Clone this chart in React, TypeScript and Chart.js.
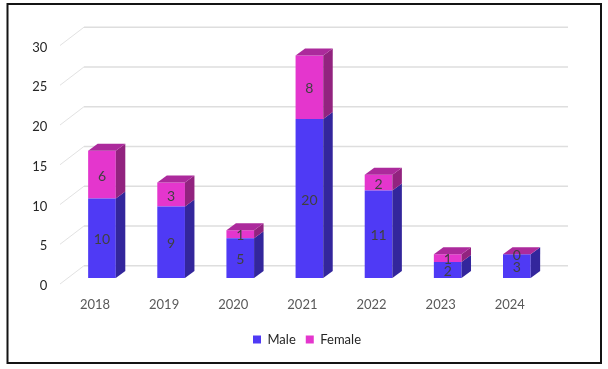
import React, { useEffect, useRef } from "react";
import { Chart, registerables } from "chart.js";

Chart.register(...registerables);

const categories = ["2018", "2019", "2020", "2021", "2022", "2023", "2024"];
const male = [10, 9, 5, 20, 11, 2, 3];
const female = [6, 3, 1, 8, 2, 1, 0];

const BLUE = "#4f3af5";
const BLUE_SIDE = "#33269c";
const MAGENTA = "#e436cd";
const MAGENTA_SIDE = "#92237f";
const MAGENTA_TOP = "#ac2a9c";
const FONT = "Lato, 'Open Sans', sans-serif";
const DX = 9.5;
const DY = 7;

const poly = (ctx: CanvasRenderingContext2D, pts: number[][], fill: string) => {
  ctx.beginPath();
  pts.forEach(([x, y], i) => (i ? ctx.lineTo(x, y) : ctx.moveTo(x, y)));
  ctx.closePath();
  ctx.fillStyle = fill;
  ctx.fill();
};

const scene = {
  id: "scene",
  beforeDraw(chart: any) {
    const { ctx, chartArea, scales } = chart;
    ctx.save();
    ctx.fillStyle = "#ffffff";
    ctx.fillRect(0, 0, chart.width, chart.height);
    ctx.strokeStyle = "#141414";
    ctx.lineWidth = 2;
    ctx.strokeRect(7.5, 4, 593.5, 359);
    // floor-and-wall rules, one per y tick
    const left = chartArea.left - 7.4;
    const backLeft = chartArea.left + 16.6;
    const backRight = chartArea.right + 16.6;
    scales.y.ticks.forEach((t: any) => {
      const y = scales.y.getPixelForValue(t.value);
      ctx.strokeStyle = "#e2e2e2";
      ctx.lineWidth = 1;
      ctx.beginPath();
      ctx.moveTo(left, y + 6);
      ctx.lineTo(backLeft, y - 12.3);
      ctx.stroke();
      ctx.strokeStyle = "#dedede";
      ctx.lineWidth = 1.6;
      ctx.beginPath();
      ctx.moveTo(backLeft, y - 12.3);
      ctx.lineTo(backRight, y - 12.3);
      ctx.stroke();
    });
    ctx.restore();
  },
  afterDatasetsDraw(chart: any) {
    const { ctx } = chart;
    ctx.save();
    chart.data.datasets.forEach((ds: any, di: number) => {
      const isTop = di === chart.data.datasets.length - 1;
      chart.getDatasetMeta(di).data.forEach((bar: any, i: number) => {
        const { x, y, base, width } = bar.getProps(["x", "y", "base", "width"], true);
        const r = x + width / 2;
        const l = x - width / 2;
        if (base - y > 0) {
          poly(ctx, [[r, y], [r + DX, y - DY], [r + DX, base - DY], [r, base]], di === 0 ? BLUE_SIDE : MAGENTA_SIDE);
        }
        if (isTop) {
          poly(ctx, [[l, y], [l + DX, y - DY], [r + DX, y - DY], [r, y]], MAGENTA_TOP);
        }
      });
    });
    ctx.font = `14px ${FONT}`;
    ctx.fillStyle = "#404040";
    ctx.textAlign = "center";
    ctx.textBaseline = "middle";
    chart.data.datasets.forEach((ds: any, di: number) => {
      chart.getDatasetMeta(di).data.forEach((bar: any, i: number) => {
        const { x, y, base } = bar.getProps(["x", "y", "base"], true);
        ctx.fillText(String(ds.data[i]), x, (y + base) / 2 + 1.5);
      });
    });
    ctx.restore();
  },
};

export default function App() {
  const ref = useRef<HTMLCanvasElement>(null);
  useEffect(() => {
    const chart = new Chart(ref.current!, {
      type: "bar",
      data: {
        labels: categories,
        datasets: [
          { label: "Male", data: male, backgroundColor: BLUE, borderWidth: 0, stack: "s" },
          { label: "Female", data: female, backgroundColor: MAGENTA, borderWidth: 0, stack: "s" },
        ],
      },
      options: {
        animation: false,
        responsive: false,
        datasets: { bar: { barPercentage: 0.4, categoryPercentage: 1 } },
        layout: { padding: { left: 6, right: 0, top: 39.5, bottom: 13 } },
        plugins: {
          legend: {
            position: "bottom",
            labels: {
              usePointStyle: true,
              pointStyle: "rect",
              boxWidth: 8,
              boxHeight: 8,
              padding: 10,
              color: "#262626",
              font: { family: FONT, size: 13 },
            },
          },
          tooltip: { enabled: false },
        },
        scales: {
          x: {
            stacked: true,
            border: { display: false },
            grid: { display: false, drawTicks: false },
            ticks: { color: "#595959", font: { family: FONT, size: 13 }, padding: 19, labelOffset: -7, maxRotation: 0 },
            afterFit(s: any) {
              s.height = 45;
            },
          },
          y: {
            stacked: true,
            min: 0,
            max: 30,
            border: { display: false },
            grid: { display: false, drawTicks: false },
            ticks: { stepSize: 5, color: "#262626", font: { family: FONT, size: 13 }, padding: 20, labelOffset: 8 },
            afterFit(s: any) {
              s.width = 61.4;
            },
          },
          spacer: {
            position: "right",
            border: { display: false },
            grid: { display: false, drawTicks: false },
            ticks: { display: false },
            afterFit(s: any) {
              s.width = 56.6;
            },
          },
        },
      },
      plugins: [scene],
    } as any);
    return () => chart.destroy();
  }, []);
  return (
    <div style={{ position: "absolute", left: 0, top: 0, width: 608, height: 369 }}>
      <canvas ref={ref} width={608} height={369} style={{ display: "block" }} />
    </div>
  );
}
